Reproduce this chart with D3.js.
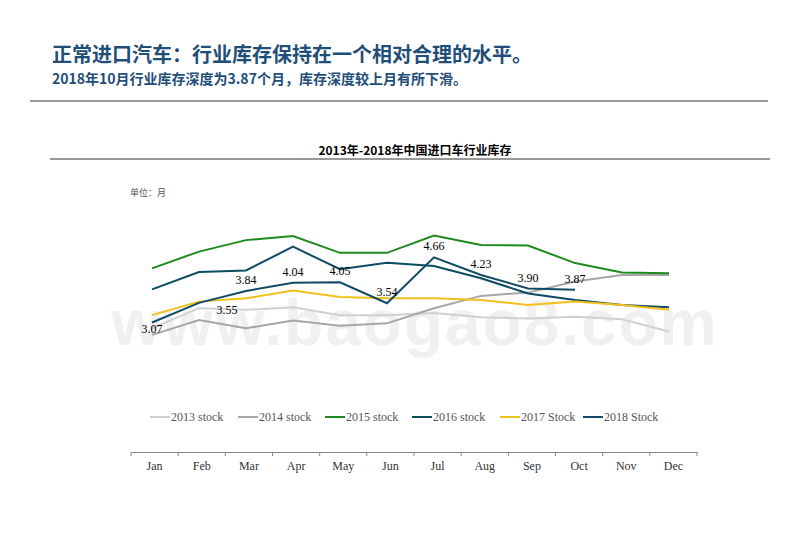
<!DOCTYPE html><html><head><meta charset="utf-8"><script src="https://cdn.jsdelivr.net/npm/d3@7"></script>
<style>body{margin:0;background:#fff}</style></head><body><svg id="c" width="800" height="553"></svg>
<script>
const months=["Jan","Feb","Mar","Apr","May","Jun","Jul","Aug","Sep","Oct","Nov","Dec"];
const s2013=[2.93,3.42,3.38,3.44,3.25,3.25,3.30,3.20,3.17,3.21,3.15,2.85];
const s2014=[2.77,3.13,2.93,3.12,2.99,3.05,3.42,3.72,3.80,4.07,4.23,4.23];
const s2015=[4.39,4.80,5.08,5.18,4.77,4.77,5.19,4.96,4.95,4.52,4.29,4.27];
const s2016=[3.88,4.30,4.34,4.92,4.37,4.53,4.45,4.15,3.78,3.62,3.50,3.44];
const s2017=[3.25,3.58,3.66,3.85,3.69,3.66,3.66,3.62,3.50,3.58,3.50,3.38];
const s2018=[3.07,3.55,3.84,4.04,4.05,3.54,4.66,4.23,3.90,3.87];
const names=["2013 stock","2014 stock","2015 stock","2016 stock","2017 Stock","2018 Stock"];
const colors=["#d0d0d0","#a6a6a6","#1e8a1e","#0d4a63","#f2c01a","#104a66"];
const series=[s2013,s2014,s2015,s2016,s2017,s2018];
const svg=d3.select("#c");
const blue="#1f4e79";
svg.append("text").attr("x",52).attr("y",62).attr("font-size",20).attr("font-weight","bold").attr("fill",blue).attr("font-family","Noto Sans CJK SC").text("正常进口汽车：行业库存保持在一个相对合理的水平。");
svg.append("text").attr("x",52).attr("y",84).attr("font-size",14).attr("font-weight","bold").attr("fill",blue).attr("font-family","Noto Sans CJK SC").text("2018年10月行业库存深度为3.87个月，库存深度较上月有所下滑。");
svg.append("line").attr("x1",30).attr("x2",768).attr("y1",101).attr("y2",101).attr("stroke","#999").attr("stroke-width",2);
svg.append("text").attr("x",415).attr("y",155).attr("text-anchor","middle").attr("font-size",12).attr("font-weight","bold").attr("font-family","Noto Sans CJK SC").text("2013年-2018年中国进口车行业库存");
svg.append("line").attr("x1",50).attr("x2",770).attr("y1",159).attr("y2",159).attr("stroke","#333");
svg.append("text").attr("x",130).attr("y",196).attr("font-size",9).attr("fill","#555").attr("font-family","Noto Sans CJK SC").text("单位：月");
svg.append("text").attr("x",415).attr("y",345).attr("text-anchor","middle").attr("font-size",64).attr("font-weight","bold").attr("fill","#f0f0f0").attr("font-family","Liberation Sans").attr("letter-spacing",2).text("www.baogao8.com");
const x=d3.scalePoint().domain(months).range([152,669]);
const y=d3.scaleLinear().domain([2.5,5.5]).range([345.9,222.9]);
const line=d3.line().x((d,i)=>x(months[i])).y(d=>y(d));
series.forEach((s,k)=>svg.append("path").attr("d",line(s)).attr("fill","none").attr("stroke",colors[k]).attr("stroke-width",2));
const lo=[[0,10],[28,11]];
s2018.forEach((v,i)=>{const o=lo[i]||[0,-7];
svg.append("text").attr("x",x(months[i])+o[0]).attr("y",y(v)+o[1]).attr("text-anchor","middle").attr("font-size",12).attr("font-family","Liberation Serif").text(v.toFixed(2));});
const lx=[150,238,325,412,500,583];
names.forEach((n,k)=>{svg.append("line").attr("x1",lx[k]).attr("x2",lx[k]+20).attr("y1",417).attr("y2",417).attr("stroke",colors[k]).attr("stroke-width",2);
svg.append("text").attr("x",lx[k]+21).attr("y",421).attr("font-size",12).attr("fill","#555").attr("font-family","Liberation Serif").text(n);});
const band=d3.scaleBand().domain(months).range([131,697]);
const ax=svg.append("g").attr("transform","translate(0,452)").call(d3.axisBottom(band).tickSize(0).tickPadding(9));
ax.select(".domain").attr("stroke","#888");
ax.selectAll("text").attr("font-size",12).attr("fill","#333").attr("font-family","Liberation Serif");
svg.append("g").selectAll("line").data(d3.range(13)).join("line").attr("x1",d=>131+d*band.step()).attr("x2",d=>131+d*band.step()).attr("y1",452).attr("y2",456).attr("stroke","#888");
</script></body></html>
